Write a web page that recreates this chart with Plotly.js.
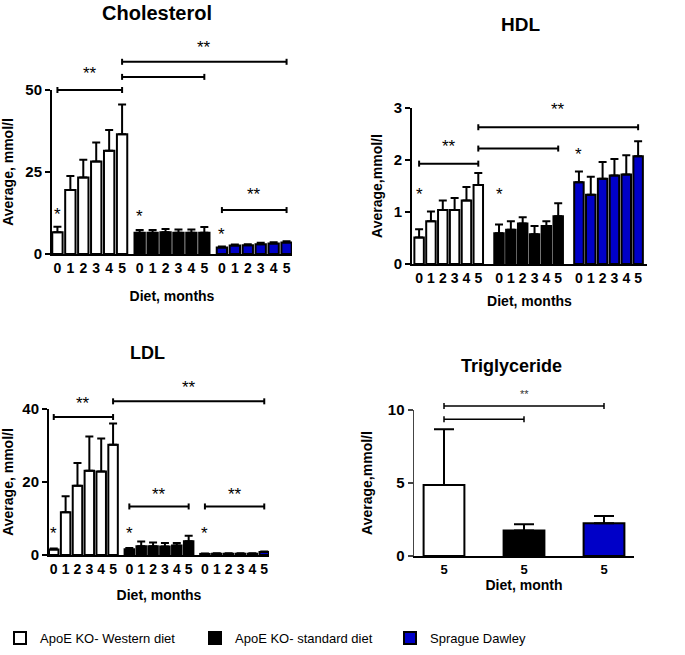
<!DOCTYPE html>
<html>
<head>
<meta charset="utf-8">
<script src="https://cdn.plot.ly/plotly-3.0.1.min.js"></script>
<style>
  html, body { margin: 0; padding: 0; background: #fff; }
  #chart { width: 685px; height: 655px; }
</style>
</head>
<body>
<div id="chart"></div>
<script>
// ---- data (mmol/l) ----
const months = ["0", "1", "2", "3", "4", "5"];
const groupNames = ["ApoE KO- Western diet", "ApoE KO- standard diet", "Sprague Dawley"];

const cholWestern = [6.6, 19.5, 23.3, 28.2, 31.5, 36.5];
const cholWesternErr = [1.7, 4.3, 5.4, 5.8, 6.3, 9.1];
const cholStandard = [6.5, 6.5, 6.6, 6.5, 6.5, 6.5];
const cholStandardErr = [0.8, 0.8, 1.0, 1.0, 1.0, 1.7];
const cholSD = [2.0, 2.6, 2.7, 3.0, 3.2, 3.5];
const cholSDErr = [0.3, 0.3, 0.3, 0.4, 0.4, 0.4];

const hdlWestern = [0.51, 0.82, 1.04, 1.04, 1.22, 1.52];
const hdlWesternErr = [0.16, 0.19, 0.18, 0.23, 0.26, 0.23];
const hdlStandard = [0.59, 0.66, 0.78, 0.57, 0.73, 0.92];
const hdlStandardErr = [0.17, 0.16, 0.12, 0.16, 0.09, 0.25];
const hdlSD = [1.57, 1.33, 1.64, 1.70, 1.72, 2.07];
const hdlSDErr = [0.21, 0.35, 0.32, 0.32, 0.37, 0.29];

const ldlWestern = [1.5, 11.7, 19.0, 23.1, 22.9, 30.2];
const ldlWesternErr = [0.3, 4.4, 6.2, 9.4, 9.0, 5.8];
const ldlStandard = [1.6, 2.4, 2.4, 2.3, 2.6, 3.8];
const ldlStandardErr = [0.3, 1.3, 1.0, 1.0, 0.7, 1.5];
const ldlSD = [0.3, 0.35, 0.35, 0.35, 0.35, 0.8];
const ldlSDErr = [0.1, 0.1, 0.1, 0.1, 0.1, 0.15];

const trigMonth = ["5", "5", "5"];
const trigValues = [4.86, 1.74, 2.24];
const trigErr = [3.82, 0.43, 0.50];

const cholTicks = [0, 25, 50];
const hdlTicks = [0, 1, 2, 3];
const ldlTicks = [0, 20, 40];
const trigTicks = [0, 5, 10];

// significance marks: [group, month, group, month, level, label, label level]
const cholBrackets = [[0, 0, 0, 5, 50, "**", 55], [0, 5, 1, 5, 54, "", 0], [0, 5, 2, 5, 58.6, "**", 63], [2, 0, 2, 5, 13.4, "**", 18]];
const cholStars = [[0, 12], [1, 11.4], [2, 5.8]];
const hdlBrackets = [[0, 0, 0, 5, 1.93, "**", 2.26], [0, 5, 1, 5, 2.22, "", 0], [0, 5, 2, 5, 2.63, "**", 2.97]];
const hdlStars = [[0, 1.33], [1, 1.33], [2, 2.1]];
const ldlBrackets = [[0, 0, 0, 5, 37.8, "**", 41.6], [0, 5, 2, 5, 42.1, "**", 45.8], [1, 0, 1, 5, 13.3, "**", 16.7], [2, 0, 2, 5, 13.3, "**", 16.7]];
const ldlStars = [[0, 6], [1, 6], [2, 6]];
const trigBrackets = [[0, 0, 2, 0, 10.27, "**", 11.1], [0, 0, 1, 0, 9.36, "", 0]];

// ---- layout helpers ----
const W = 685, H = 655;
const FONT = "Liberation Sans, Arial, sans-serif";
const fills = ["#ffffff", "#000000", "#0000c8"];

const panels = [
  { xa: "x", ya: "y", title: "Cholesterol", titleSize: 20, titlePos: [157, 13],
    xPx: [52, 292], y0Px: 254, yTopPx: 90, ticks: cholTicks, gap: 0.36, pad: [0.42, 0.42],
    series: [[cholWestern, cholWesternErr], [cholStandard, cholStandardErr], [cholSD, cholSDErr]],
    brackets: cholBrackets, stars: cholStars, xTitle: "Diet, months", yTitle: "Average, mmol/l", xStand: 16 },
  { xa: "x2", ya: "y2", title: "HDL", titleSize: 19, titlePos: [520, 25],
    xPx: [412, 647], y0Px: 264, yTopPx: 108, ticks: hdlTicks, gap: 0.75, pad: [0.6, 0.75],
    series: [[hdlWestern, hdlWesternErr], [hdlStandard, hdlStandardErr], [hdlSD, hdlSDErr]],
    brackets: hdlBrackets, stars: hdlStars, xTitle: "Diet, months", yTitle: "Average,mmol/l", xStand: 11 },
  { xa: "x3", ya: "y3", title: "LDL", titleSize: 18, titlePos: [147, 353],
    xPx: [49, 269], y0Px: 555, yTopPx: 409, ticks: ldlTicks, gap: 0.37, pad: [0.4, 0.4],
    series: [[ldlWestern, ldlWesternErr], [ldlStandard, ldlStandardErr], [ldlSD, ldlSDErr]],
    brackets: ldlBrackets, stars: ldlStars, xTitle: "Diet, months", yTitle: "Average, mmol/l", xStand: 14 },
  { xa: "x4", ya: "y4", title: "Triglyceride", titleSize: 18, titlePos: [512, 366],
    xPx: [414, 634], y0Px: 556, yTopPx: 410, ticks: trigTicks, single: true,
    brackets: trigBrackets, stars: [], xTitle: "Diet, month", yTitle: "Average,mmol/l", xStand: 4 }
];

function pos(p, g, i) { return p.single ? g : g * (6 + p.gap) + i; }

const traces = [];
const shapes = [];
const annotations = [];
const layout = {
  width: W, height: H,
  margin: { l: 0, r: 0, t: 0, b: 0 },
  paper_bgcolor: "#fff", plot_bgcolor: "#fff",
  barmode: "overlay",
  font: { family: FONT, color: "#000" },
  showlegend: true,
  legend: {
    orientation: "h", x: 0, xanchor: "left", y: (H - 638) / H, yanchor: "middle",
    font: { size: 13, family: FONT }, entrywidth: 150, entrywidthmode: "pixels",
    bgcolor: "rgba(0,0,0,0)", traceorder: "normal"
  },
  shapes: shapes,
  annotations: annotations
};

panels.forEach((p, k) => {
  const range = p.single ? [-0.375, 2.375] : [-p.pad[0], pos(p, 2, 5) + p.pad[1]];
  const yMax = p.ticks[p.ticks.length - 1];
  const hPx = p.y0Px - p.yTopPx;
  const fx = (x) => (x - range[0]) / (range[1] - range[0]);
  const fy = (y) => y / yMax;
  const n = k === 0 ? "" : String(k + 1);
  const lineW = p.single ? 1.5 : 2;

  // bars
  if (p.single) {
    [0, 1, 2].forEach((g) => {
      traces.push({
        type: "bar", x: [g], y: [trigValues[g]], width: 0.51,
        xaxis: p.xa, yaxis: p.ya, name: groupNames[g], legendgroup: "g" + g, showlegend: false,
        marker: { color: fills[g], line: { color: "#000", width: 2 } },
        error_y: { type: "data", symmetric: false, array: [trigErr[g]], arrayminus: [0], color: "#000", thickness: 2, width: 10 },
        hoverinfo: "y"
      });
    });
  } else {
    p.series.forEach((s, g) => {
      traces.push({
        type: "bar", x: months.map((m, i) => pos(p, g, i)), y: s[0], width: 0.8,
        xaxis: p.xa, yaxis: p.ya, name: groupNames[g], legendgroup: "g" + g, showlegend: k === 0,
        marker: { color: fills[g], line: { color: "#000", width: 2 } },
        error_y: { type: "data", symmetric: false, array: s[1], arrayminus: s[1].map(() => 0), color: "#000", thickness: 2, width: 4 },
        hoverinfo: "y"
      });
    });
  }

  // axes
  const tv = p.single ? [0, 1, 2] : [0, 1, 2].flatMap((g) => months.map((m, i) => pos(p, g, i)));
  const tt = p.single ? trigMonth : [0, 1, 2].flatMap(() => months);
  layout["xaxis" + n] = {
    domain: [p.xPx[0] / W, p.xPx[1] / W], anchor: p.ya, range: range,
    showline: true, linecolor: "#000", linewidth: 2, showgrid: false, zeroline: false,
    ticks: "", tickmode: "array", tickvals: tv, ticktext: tt,
    tickfont: { size: p.single ? 13 : 14, weight: "bold" },
    title: { text: p.xTitle, font: { size: 14, weight: "bold" }, standoff: p.xStand },
    automargin: false, fixedrange: true
  };
  layout["yaxis" + n] = {
    domain: [(H - p.y0Px) / H, (H - p.yTopPx) / H], anchor: p.xa, range: [0, yMax],
    showline: true, linecolor: p.single ? "#444" : "#000", linewidth: lineW,
    showgrid: false, zeroline: false,
    ticks: "outside", ticklen: 5, tickwidth: lineW, tickcolor: p.single ? "#444" : "#000",
    tickmode: "array", tickvals: p.ticks,
    tickfont: { size: 15, weight: "bold" },
    title: { text: p.yTitle, font: { size: 14, weight: "bold" }, standoff: p.single ? 12 : 8 },
    automargin: false, fixedrange: true
  };

  // panel title
  annotations.push({
    xref: "paper", yref: "paper", x: p.titlePos[0] / W, y: 1 - p.titlePos[1] / H,
    text: p.title, showarrow: false, xanchor: "center", yanchor: "middle",
    font: { size: p.titleSize, weight: "bold" }
  });

  // significance brackets
  const cap = 3 / hPx;
  p.brackets.forEach((b) => {
    const x0 = fx(pos(p, b[0], b[1])), x1 = fx(pos(p, b[2], b[3])), y = fy(b[4]);
    const base = { xref: p.xa + " domain", yref: p.ya + " domain", type: "line", line: { color: "#000", width: p.single ? 1.5 : 2 } };
    shapes.push(Object.assign({}, base, { x0: x0, x1: x1, y0: y, y1: y }));
    shapes.push(Object.assign({}, base, { x0: x0, x1: x0, y0: y - cap, y1: y + cap }));
    shapes.push(Object.assign({}, base, { x0: x1, x1: x1, y0: y - cap, y1: y + cap }));
    if (b[5]) {
      annotations.push({
        xref: p.xa + " domain", yref: p.ya + " domain", x: (x0 + x1) / 2, y: fy(b[6]),
        text: b[5], showarrow: false, xanchor: "center", yanchor: "middle",
        font: { size: p.single ? 11 : 17, color: p.single ? "#333" : "#000" }
      });
    }
  });
  p.stars.forEach((s) => {
    annotations.push({
      xref: p.xa + " domain", yref: p.ya + " domain", x: fx(pos(p, s[0], 0)), y: fy(s[1]),
      text: "*", showarrow: false, xanchor: "center", yanchor: "middle", font: { size: 17 }
    });
  });
});

Plotly.newPlot("chart", traces, layout, { displayModeBar: false, staticPlot: true });
</script>
</body>
</html>
